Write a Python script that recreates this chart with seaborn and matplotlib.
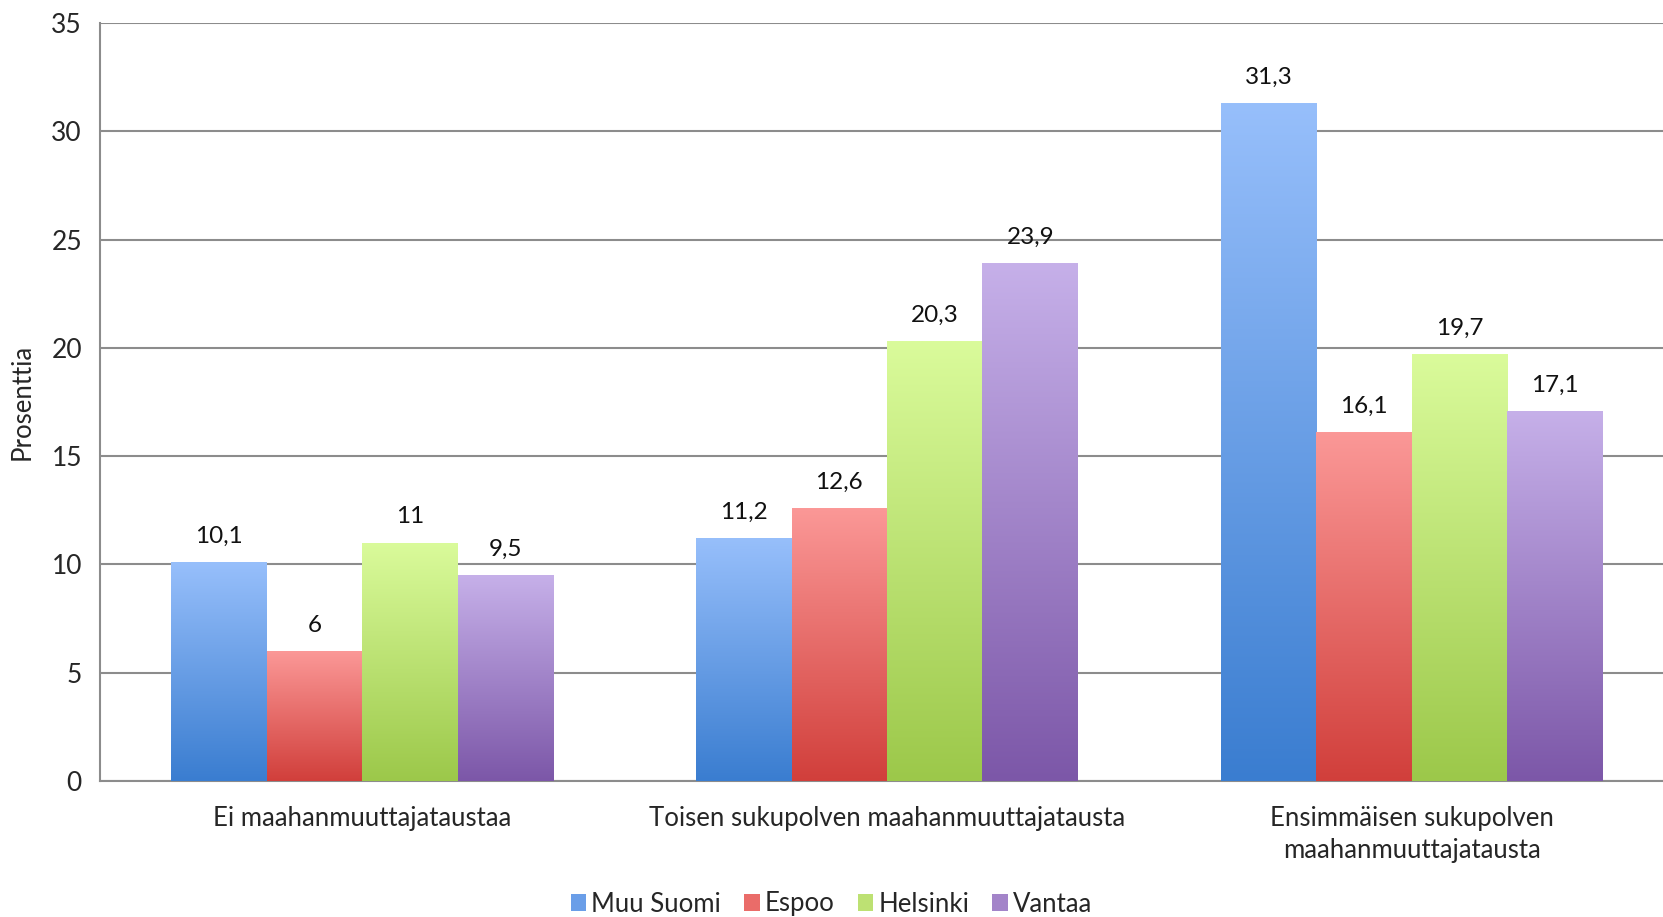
import matplotlib as mpl
mpl.use('Agg')
import matplotlib.pyplot as plt
import matplotlib.patches as mpatches
from matplotlib.colors import LinearSegmentedColormap
import numpy as np
import pandas as pd
import seaborn as sns

categories = ['Ei maahanmuuttajataustaa',
              'Toisen sukupolven maahanmuuttajatausta',
              'Ensimmäisen sukupolven\nmaahanmuuttajatausta']
regions = ['Muu Suomi', 'Espoo', 'Helsinki', 'Vantaa']
muu_suomi = [10.1, 11.2, 31.3]
espoo = [6.0, 12.6, 16.1]
helsinki = [11.0, 20.3, 19.7]
vantaa = [9.5, 23.9, 17.1]

# light top -> dark bottom, like the original office chart
top_colors = ['#97bffb', '#fb9897', '#dafb9b', '#c6b0e9']
bottom_colors = ['#3a7dd0', '#d13f3b', '#9cc84a', '#7c57a8']

df = pd.DataFrame({
    'ryhma': categories * 4,
    'alue': [r for r in regions for _ in categories],
    'arvo': muu_suomi + espoo + helsinki + vantaa,
})

sns.set_style('white')
plt.rcParams['font.family'] = ['Lato', 'DejaVu Sans']

fig = plt.figure(figsize=(16.63, 9.17), dpi=100)
ax = fig.add_axes([100 / 1663, 1 - 781 / 917, 1574 / 1663, (781 - 23) / 917])

sns.barplot(data=df, x='ryhma', y='arvo', hue='alue', order=categories,
            hue_order=regions, width=0.728, palette=top_colors, ax=ax,
            legend=False, zorder=3)

# gradient fill for each bar
for i, cont in enumerate(ax.containers):
    cmap = LinearSegmentedColormap.from_list('g', [bottom_colors[i], top_colors[i]])
    grad = np.linspace(0, 1, 256).reshape(-1, 1)
    for bar in cont:
        x0, y0 = bar.get_x(), bar.get_y()
        w, h = bar.get_width(), bar.get_height()
        bar.set_facecolor('none')
        bar.set_edgecolor('none')
        im = ax.imshow(grad, cmap=cmap, origin='lower', aspect='auto',
                       extent=[x0, x0 + w, y0, y0 + h], zorder=3)
        im.set_clip_path(bar)
        ax.annotate(f'{h:g}'.replace('.', ','), (x0 + w / 2, h),
                    xytext=(0, 11), textcoords='offset points',
                    ha='center', va='bottom', fontsize=17.5, color='#111111')

ax.set_xlim(-0.5, 2.5)
ax.set_ylim(0, 35)
ax.set_yticks(range(0, 36, 5))
ax.grid(axis='y', color='#8c8c8c', linewidth=1.5, zorder=0)
ax.set_axisbelow(True)
for s in ['top', 'right']:
    ax.spines[s].set_visible(False)
for s in ['left', 'bottom']:
    ax.spines[s].set_color('#8c8c8c')
    ax.spines[s].set_linewidth(1.5)

ax.set_xticks([0.5, 1.5], minor=True)
ax.tick_params(axis='x', which='major', length=0, pad=18, labelsize=18.5)
ax.tick_params(axis='x', which='minor', length=8, width=1.5, color='#8c8c8c')
ax.tick_params(axis='y', length=8, width=1.5, color='#8c8c8c', labelsize=19,
               pad=5)
for t in ax.get_xticklabels():
    t.set_linespacing(1.35)
ax.set_xlabel('')
ax.set_ylabel('Prosenttia', fontsize=18.5, labelpad=12)

handles = [mpatches.Patch(facecolor=c, edgecolor='none') for c in
           ['#6a9ee8', '#ea6c69', '#bde173', '#a384c9']]
fig.legend(handles, regions, loc='center', bbox_to_anchor=(0.5, 1 - 904 / 917),
           ncol=4, frameon=False, fontsize=18.5, handlelength=0.6,
           handleheight=0.6, handletextpad=0.2, columnspacing=0.9)

fig.savefig('out.png', dpi=100)
